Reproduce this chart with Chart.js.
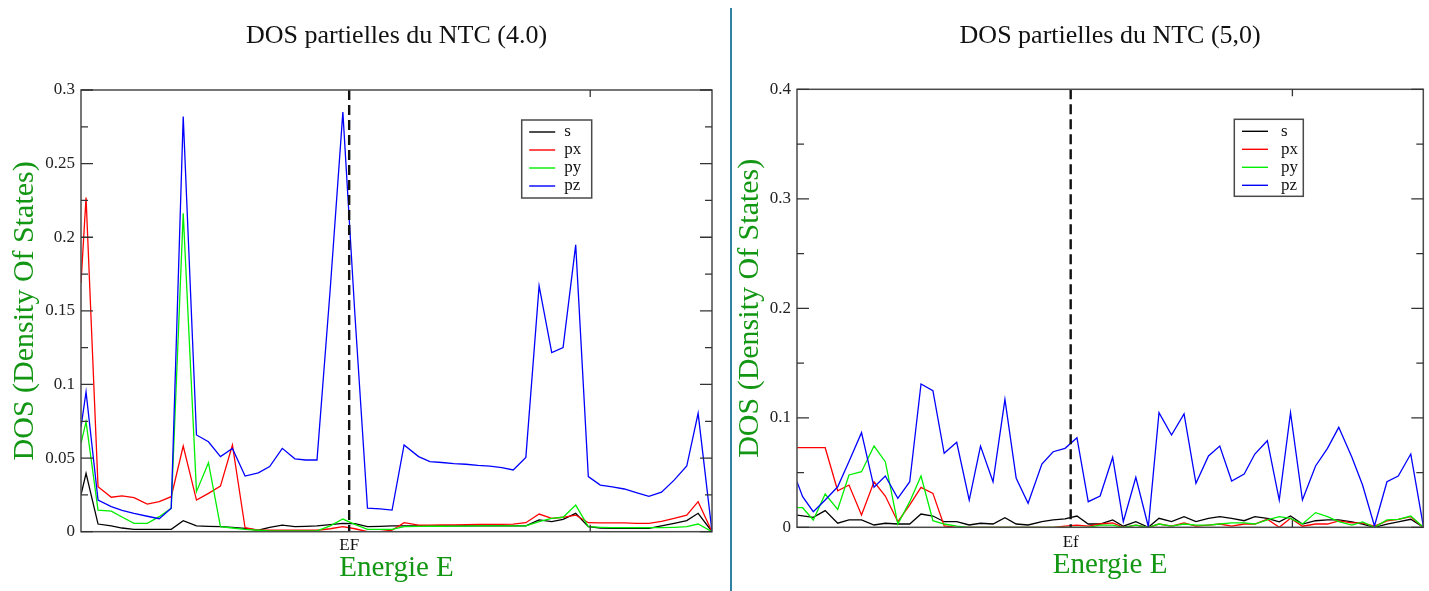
<!DOCTYPE html>
<html><head><meta charset="utf-8">
<script src="https://cdn.jsdelivr.net/npm/chart.js@4.4.0/dist/chart.umd.min.js"></script>
<style>
html,body{margin:0;padding:0;background:#fff;width:1429px;height:591px;overflow:hidden;}
#c1{position:absolute;left:0;top:0;}
#c2{position:absolute;left:732px;top:0;}
#sep{position:absolute;left:730px;top:8px;width:2px;height:583px;background:#2f82a3;z-index:2;}
</style></head><body>
<canvas id="c1" width="728" height="591"></canvas>
<canvas id="c2" width="697" height="591"></canvas>
<div id="sep"></div>
<script>
// ---------- shared ----------
const seriesNames = ['s', 'px', 'py', 'pz'];
const seriesColors = ['#000000', '#ff0000', '#00ee00', '#0000ff'];

// ---------- NTC (4,0) ----------
const title40 = 'DOS partielles du NTC (4.0)';
const efLabel40 = 'EF';
const ef40 = 42.5;
const yTickLabels40 = ['0', '0.05', '0.1', '0.15', '0.2', '0.25', '0.3'];
const energy40 = [0,0.8,2.7,4.8,6.5,8.4,10.5,12.4,14.3,16.2,18.3,20.2,22.1,24.0,26.0,28.1,29.9,31.9,33.9,35.6,37.4,39.5,41.5,43.4,45.4,47.4,49.3,51.2,53.5,55.3,57.2,59.1,61.0,62.9,64.8,66.7,68.5,70.5,72.6,74.6,76.4,78.4,80.4,82.3,84.2,86.1,88.0,90.0,92.0,94.0,96.0,97.8,100];
const s40  = [0.025,0.0397,0.0052,0.0039,0.0025,0.0016,0.0016,0.0016,0.0016,0.0075,0.0039,0.0036,0.0034,0.003,0.0023,0.001,0.003,0.0045,0.0034,0.0036,0.0039,0.0048,0.0057,0.0055,0.0034,0.0036,0.0039,0.0039,0.0039,0.0039,0.0039,0.0039,0.0039,0.0039,0.0039,0.0039,0.0039,0.0039,0.008,0.0068,0.0084,0.0125,0.0034,0.0025,0.0023,0.0023,0.0023,0.0023,0.004,0.0057,0.0075,0.0125,0];
const px40 = [0.169,0.227,0.0305,0.0234,0.0243,0.0232,0.0188,0.0204,0.0238,0.0582,0.0215,0.026,0.031,0.0589,0.0027,0.001,0.001,0.001,0.001,0.001,0.001,0.002,0.0034,0.002,0,0,0.001,0.0061,0.0045,0.0045,0.0046,0.0047,0.0048,0.0049,0.005,0.005,0.0052,0.0061,0.012,0.0091,0.0098,0.0113,0.0061,0.006,0.006,0.006,0.0057,0.0057,0.007,0.009,0.0113,0.0204,0];
const py40 = [0.06,0.0747,0.0147,0.014,0.01,0.0057,0.0057,0.0102,0.0159,0.2163,0.0272,0.0469,0.0034,0.0025,0.0016,0.001,0.0005,0.0005,0.0005,0.0005,0.0005,0.004,0.0086,0.005,0.0016,0.0016,0.0016,0.0034,0.0036,0.0037,0.0037,0.0038,0.0038,0.0039,0.0039,0.0039,0.0039,0.004,0.0068,0.009,0.0098,0.0181,0.0034,0.003,0.0027,0.0027,0.0027,0.0027,0.0027,0.003,0.0034,0.0052,0];
const pz40 = [0.071,0.095,0.0215,0.017,0.0145,0.0125,0.0105,0.0088,0.016,0.282,0.0657,0.0611,0.051,0.0566,0.0378,0.040,0.0442,0.0566,0.0495,0.0487,0.0487,0.165,0.285,0.148,0.016,0.0155,0.0147,0.0589,0.051,0.0476,0.047,0.0463,0.0458,0.045,0.0445,0.0435,0.0419,0.0505,0.1669,0.1216,0.125,0.1948,0.0374,0.0317,0.0305,0.029,0.0265,0.024,0.0268,0.035,0.0446,0.0804,0];

// ---------- NTC (5,0) ----------
const title50 = 'DOS partielles du NTC (5,0)';
const efLabel50 = 'Ef';
const ef50 = 43.7;
const yTickLabels50 = ['0', '0.1', '0.2', '0.3', '0.4'];
const energy50 = [0,0.9,2.6,4.5,6.5,8.3,10.3,12.3,14.1,16.1,18.0,19.8,21.7,23.5,25.5,27.5,29.3,31.3,33.2,35.0,36.9,39.1,40.9,42.8,44.7,46.5,48.4,50.4,52.1,54.1,56.1,57.8,59.8,61.8,63.7,65.7,67.5,69.4,71.4,73.1,75.1,77.0,78.8,80.7,82.8,84.7,86.5,88.6,90.3,92.2,94.2,96.0,98.0,100];
const s50  = [0.0112,0.0105,0.0091,0.0152,0.0037,0.0067,0.0067,0.0021,0.0037,0.003,0.003,0.0121,0.0103,0.0051,0.0051,0.0021,0.0037,0.003,0.0088,0.003,0.0021,0.0051,0.0067,0.0076,0.0103,0.003,0.003,0.0067,0.001,0.0051,0,0.0082,0.0052,0.0097,0.0052,0.0082,0.0097,0.0082,0.006,0.0097,0.0082,0.005,0.0103,0.003,0.006,0.0067,0.0067,0.005,0.003,0,0.003,0.005,0.0073,0];
const px50 = [0.0727,0.0727,0.0727,0.0727,0.0334,0.0386,0.0112,0.0416,0.0286,0.0051,0.0204,0.0365,0.031,0.0012,0,0,0,0,0,0,0,0,0,0.001,0.002,0.001,0.003,0.004,0,0.002,0,0.003,0.001,0.004,0.001,0.002,0.003,0.001,0.003,0.003,0.0073,0,0.0082,0.001,0.003,0.003,0.0058,0.004,0.004,0.001,0.0058,0.0073,0.0097,0];
const py50 = [0.0179,0.0179,0.0067,0.0304,0.0164,0.0478,0.0508,0.0742,0.0599,0.003,0.0234,0.0468,0.006,0.003,0.001,0,0,0,0,0,0,0,0,0,0,0,0.002,0.002,0,0.002,0,0.003,0.001,0.003,0.002,0.002,0.003,0.004,0.004,0.003,0.0067,0.0097,0.0082,0.003,0.0134,0.0097,0.0052,0.002,0.005,0,0.0067,0.0073,0.0103,0];
const pz50 = [0.0416,0.028,0.0143,0.025,0.037,0.060,0.0864,0.0365,0.0468,0.0265,0.0416,0.1309,0.1248,0.0676,0.0776,0.0249,0.0742,0.0416,0.1169,0.0447,0.0219,0.0578,0.069,0.0721,0.0818,0.0234,0.0286,0.0639,0.0051,0.0457,0.0005,0.1047,0.0843,0.1035,0.0402,0.0651,0.0742,0.0423,0.0487,0.0669,0.0791,0.0249,0.1047,0.0249,0.056,0.0721,0.0913,0.0639,0.0386,0.0012,0.0416,0.0468,0.0669,0.0012];

const xAxisTitle = 'Energie E';
const yAxisTitle = 'DOS (Density Of States)';

const FONT = '"Liberation Serif", "Times New Roman", serif';
const AXIS_GREEN = '#139613';

// decoration plugin: frame, inward ticks, Fermi level line, legend box
const decor = {
  id: 'decor',
  afterDraw(chart, args, o) {
    const {ctx, chartArea: a, scales: {x, y}} = chart;
    ctx.save();
    // Fermi level dashed line
    const xe = x.getPixelForValue(o.ef);
    ctx.strokeStyle = '#111';
    ctx.lineWidth = 2.4;
    ctx.setLineDash([10, 5]);
    ctx.beginPath(); ctx.moveTo(xe, a.top); ctx.lineTo(xe, a.bottom); ctx.stroke();
    ctx.setLineDash([]);
    // frame
    ctx.strokeStyle = '#4a4a4a';
    ctx.lineWidth = 1.5;
    ctx.strokeRect(a.left, a.top, a.right - a.left, a.bottom - a.top);
    // y ticks (major + minor), both sides, pointing inward
    ctx.lineWidth = 1.3;
    ctx.strokeStyle = '#333';
    ctx.beginPath();
    const vals = y.ticks.map(t => t.value);
    vals.forEach((v, i) => {
      const py = y.getPixelForValue(v);
      ctx.moveTo(a.left, py); ctx.lineTo(a.left + o.major, py);
      ctx.moveTo(a.right, py); ctx.lineTo(a.right - o.major, py);
      if (i < vals.length - 1) {
        const pm = y.getPixelForValue((v + vals[i + 1]) / 2);
        ctx.moveTo(a.left, pm); ctx.lineTo(a.left + o.minor, pm);
        ctx.moveTo(a.right, pm); ctx.lineTo(a.right - o.minor, pm);
      }
    });
    o.xTicks.forEach(v => {
      const px = x.getPixelForValue(v);
      ctx.moveTo(px, a.top); ctx.lineTo(px, a.top + o.minor);
      ctx.moveTo(px, a.bottom); ctx.lineTo(px, a.bottom - o.minor);
    });
    ctx.stroke();
    // legend
    const L = o.legend;
    const bx = a.left + L.dx, by = a.top + L.dy;
    ctx.fillStyle = '#fff';
    ctx.fillRect(bx, by, L.w, L.h);
    ctx.strokeStyle = '#4a4a4a';
    ctx.lineWidth = 1.5;
    ctx.strokeRect(bx, by, L.w, L.h);
    ctx.font = '17px ' + FONT;
    ctx.textBaseline = 'middle';
    ctx.textAlign = 'left';
    chart.data.datasets.forEach((ds, i) => {
      const ry = by + L.first + i * L.row;
      ctx.strokeStyle = ds.borderColor;
      ctx.lineWidth = 1.4;
      ctx.beginPath(); ctx.moveTo(bx + L.lineX, ry); ctx.lineTo(bx + L.lineX + L.lineW, ry); ctx.stroke();
      ctx.fillStyle = '#111';
      ctx.fillText(ds.label, bx + L.textX, ry);
    });
    ctx.restore();
  }
};

function makeChart(id, p) {
  const datasets = seriesNames.map((name, i) => ({
    label: name,
    data: p.energy.map((e, j) => ({x: e, y: p.values[i][j]})),
    borderColor: seriesColors[i],
    backgroundColor: seriesColors[i],
    borderWidth: 1.3,
    pointRadius: 0,
    tension: 0,
    fill: false,
    order: seriesNames.length - 1 - i
  }));
  return new Chart(document.getElementById(id), {
    type: 'line',
    data: {datasets},
    plugins: [decor],
    options: {
      responsive: false,
      devicePixelRatio: 1,
      animation: false,
      events: [],
      layout: {padding: {left: 0, right: p.padRight, top: 0, bottom: 0}},
      scales: {
        x: {
          type: 'linear', min: 0, max: 100,
          afterFit: s => { s.height = p.xHeight; },
          afterBuildTicks: s => { s.ticks = [{value: p.ef}]; },
          grid: {display: false, drawTicks: false},
          border: {display: false},
          ticks: {padding: p.efPad, autoSkip: false, maxRotation: 0, color: '#111',
                  font: {family: FONT, size: 17}, callback: () => p.efLabel},
          title: {display: true, text: xAxisTitle, color: AXIS_GREEN,
                  font: {family: FONT, size: 29}, padding: {top: 0, bottom: p.xTitlePad}}
        },
        y: {
          type: 'linear', min: 0, max: p.ymax,
          afterFit: s => { s.width = p.yWidth; },
          grid: {display: false, drawTicks: false},
          border: {display: false},
          ticks: {stepSize: p.ystep, padding: 6, color: '#222', font: {family: FONT, size: 17},
                  callback: (v, i) => p.yLabels[i] !== undefined ? p.yLabels[i] : String(v)},
          title: {display: true, text: yAxisTitle, color: AXIS_GREEN,
                  font: {family: FONT, size: 30}, padding: {top: p.yTitlePad, bottom: 0}}
        }
      },
      plugins: {
        legend: {display: false},
        tooltip: {enabled: false},
        title: {display: true, text: p.title, fullSize: false, color: '#111',
                font: {family: FONT, size: 26, weight: 'normal'},
                padding: {top: 21, bottom: p.titleBottom}},
        decor: {ef: p.ef, major: 12, minor: 7, xTicks: p.xTicks, legend: p.legend}
      }
    }
  });
}

makeChart('c1', {
  title: title40, energy: energy40, values: [s40, px40, py40, pz40],
  ef: ef40, efLabel: efLabel40, ymax: 0.3, ystep: 0.05, yLabels: yTickLabels40,
  padRight: 16, xHeight: 59.3, yWidth: 81, efPad: 4, xTitlePad: 5, yTitlePad: 7,
  titleBottom: 37.8, xTicks: [80.7],
  legend: {dx: 440.7, dy: 30, w: 70, h: 78, first: 12, row: 18, lineX: 7.5, lineW: 26, textX: 42.5}
});
makeChart('c2', {
  title: title50, energy: energy50, values: [s50, px50, py50, pz50],
  ef: ef50, efLabel: efLabel50, ymax: 0.4, ystep: 0.1, yLabels: yTickLabels50,
  padRight: 5.7, xHeight: 63.7, yWidth: 65, efPad: 5, xTitlePad: 8.6, yTitlePad: 0,
  titleBottom: 37.1, xTicks: [79.1],
  legend: {dx: 437.3, dy: 30, w: 69, h: 77, first: 12, row: 18, lineX: 7.7, lineW: 26, textX: 46.7}
});
</script>
</body></html>
